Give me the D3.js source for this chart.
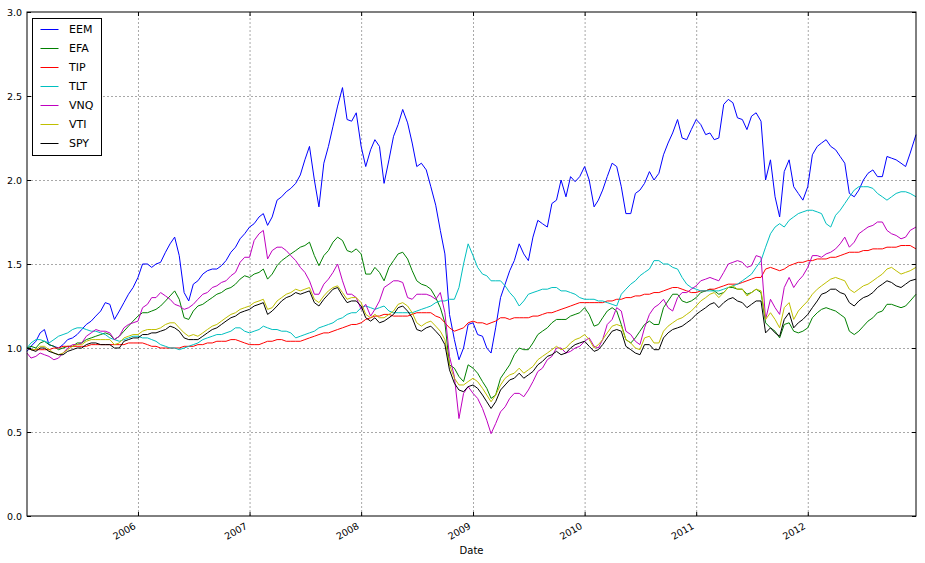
<!DOCTYPE html>
<html>
<head>
<meta charset="utf-8">
<script src="https://cdn.jsdelivr.net/npm/d3@7"></script>
<style>
  body { margin: 0; background: #fff; }
  text { font-family: "DejaVu Sans", sans-serif; }
</style>
</head>
<body>
<div id="chart-area"></div>
<script>
var dates = [
  "2005-01-03","2005-01-16","2005-02-01","2005-02-15","2005-03-01","2005-03-16","2005-04-01","2005-04-16","2005-05-01","2005-05-16","2005-06-01","2005-06-16",
  "2005-07-01","2005-07-16","2005-08-01","2005-08-16","2005-09-01","2005-09-16","2005-10-01","2005-10-16","2005-11-01","2005-11-16","2005-12-01","2005-12-16",
  "2006-01-01","2006-01-16","2006-02-01","2006-02-15","2006-03-01","2006-03-16","2006-04-01","2006-04-16","2006-05-01","2006-05-16","2006-06-01","2006-06-16",
  "2006-07-01","2006-07-16","2006-08-01","2006-08-16","2006-09-01","2006-09-16","2006-10-01","2006-10-16","2006-11-01","2006-11-16","2006-12-01","2006-12-16",
  "2007-01-01","2007-01-16","2007-02-01","2007-02-15","2007-03-01","2007-03-16","2007-04-01","2007-04-16","2007-05-01","2007-05-16","2007-06-01","2007-06-16",
  "2007-07-01","2007-07-16","2007-08-01","2007-08-16","2007-09-01","2007-09-16","2007-10-01","2007-10-16","2007-11-01","2007-11-16","2007-12-01","2007-12-16",
  "2008-01-01","2008-01-16","2008-02-01","2008-02-15","2008-03-01","2008-03-16","2008-04-01","2008-04-16","2008-05-01","2008-05-16","2008-06-01","2008-06-16",
  "2008-07-01","2008-07-16","2008-08-01","2008-08-16","2008-09-01","2008-09-16","2008-10-01","2008-10-16","2008-11-01","2008-11-16","2008-12-01","2008-12-16",
  "2009-01-01","2009-01-16","2009-02-01","2009-02-15","2009-03-01","2009-03-16","2009-04-01","2009-04-16","2009-05-01","2009-05-16","2009-06-01","2009-06-16",
  "2009-07-01","2009-07-16","2009-08-01","2009-08-16","2009-09-01","2009-09-16","2009-10-01","2009-10-16","2009-11-01","2009-11-16","2009-12-01","2009-12-16",
  "2010-01-01","2010-01-16","2010-02-01","2010-02-15","2010-03-01","2010-03-16","2010-04-01","2010-04-16","2010-05-01","2010-05-16","2010-06-01","2010-06-16",
  "2010-07-01","2010-07-16","2010-08-01","2010-08-16","2010-09-01","2010-09-16","2010-10-01","2010-10-16","2010-11-01","2010-11-16","2010-12-01","2010-12-16",
  "2011-01-01","2011-01-16","2011-02-01","2011-02-15","2011-03-01","2011-03-16","2011-04-01","2011-04-16","2011-05-01","2011-05-16","2011-06-01","2011-06-16",
  "2011-07-01","2011-07-16","2011-08-01","2011-08-16","2011-09-01","2011-09-16","2011-10-01","2011-10-16","2011-11-01","2011-11-16","2011-12-01","2011-12-16",
  "2012-01-01","2012-01-16","2012-02-01","2012-02-15","2012-03-01","2012-03-16","2012-04-01","2012-04-16","2012-05-01","2012-05-16","2012-06-01","2012-06-16",
  "2012-07-01","2012-07-16","2012-08-01","2012-08-16","2012-09-01","2012-09-16","2012-10-01","2012-10-16","2012-11-01","2012-11-16","2012-12-01","2012-12-20"
];

var EEM = [
  0.98,1.01, 1.04,1.09, 1.11,1.02, 1.01,1.00, 1.02,1.05, 1.06,1.08, 1.11,1.14, 1.16,1.19, 1.22,1.27, 1.26,1.17, 1.22,1.27, 1.32,1.36,
  1.42,1.50, 1.50,1.48, 1.50,1.51, 1.57,1.62, 1.66,1.55, 1.33,1.28, 1.38,1.40, 1.44,1.46, 1.47,1.47, 1.49,1.52, 1.57,1.60, 1.65,1.68,
  1.72,1.74, 1.78,1.80, 1.73,1.78, 1.88,1.90, 1.93,1.95, 1.98,2.03, 2.12,2.20, 2.00,1.84, 2.10,2.20, 2.32,2.44, 2.55,2.36, 2.35,2.40,
  2.20,2.08, 2.18,2.24, 2.20,1.98, 2.12,2.26, 2.33,2.42, 2.34,2.22, 2.08,2.10, 2.06,1.96, 1.85,1.70, 1.56,1.20, 1.05,0.93, 1.00,1.14,
  1.15,1.08, 1.07,1.00, 0.97,1.12, 1.30,1.38, 1.46,1.52, 1.62,1.56, 1.52,1.66, 1.76,1.74, 1.72,1.86, 1.88,2.00, 1.90,2.02, 1.99,2.02,
  2.08,2.00, 1.84,1.88, 1.94,2.02, 2.10,2.08, 1.96,1.80, 1.80,1.92, 1.94,1.98, 2.05,2.00, 2.04,2.15, 2.22,2.28, 2.36,2.25, 2.24,2.30,
  2.36,2.33, 2.27,2.28, 2.24,2.25, 2.45,2.48, 2.46,2.37, 2.36,2.30, 2.38,2.40, 2.35,2.00, 2.12,1.90, 1.78,2.05, 2.12,1.96, 1.92,1.88,
  1.96,2.15, 2.20,2.22, 2.24,2.20, 2.18,2.14, 2.10,1.92, 1.90,1.94, 2.00,2.04, 2.06,2.02, 2.02,2.14, 2.13,2.12, 2.10,2.08, 2.16,2.27
];
var EFA = [
  1.00,1.01, 1.00,1.03, 1.04,1.02, 1.01,0.99, 1.00,1.01, 1.01,1.03, 1.03,1.05, 1.06,1.07, 1.08,1.09, 1.08,1.05, 1.07,1.10, 1.13,1.16,
  1.19,1.21, 1.21,1.22, 1.23,1.25, 1.28,1.31, 1.34,1.29, 1.18,1.17, 1.22,1.25, 1.26,1.28, 1.30,1.32, 1.33,1.35, 1.36,1.38, 1.41,1.43,
  1.42,1.44, 1.45,1.47, 1.41,1.44, 1.49,1.52, 1.54,1.56, 1.58,1.60, 1.61,1.63, 1.55,1.49, 1.55,1.58, 1.63,1.66, 1.64,1.58, 1.57,1.59,
  1.56,1.44, 1.44,1.48, 1.45,1.40, 1.48,1.52, 1.56,1.57, 1.53,1.46, 1.40,1.38, 1.37,1.35, 1.30,1.24, 1.15,0.90, 0.88,0.83, 0.80,0.90,
  0.88,0.85, 0.80,0.76, 0.70,0.72, 0.82,0.86, 0.90,0.96, 1.00,0.99, 0.99,1.03, 1.08,1.10, 1.12,1.15, 1.17,1.17, 1.17,1.19, 1.20,1.21,
  1.24,1.20, 1.13,1.14, 1.18,1.22, 1.24,1.22, 1.14,1.05, 1.03,1.06, 1.10,1.14, 1.16,1.14, 1.14,1.24, 1.28,1.32, 1.32,1.28, 1.27,1.28,
  1.30,1.33, 1.34,1.35, 1.34,1.32, 1.33,1.36, 1.36,1.35, 1.35,1.32, 1.33,1.35, 1.33,1.15, 1.12,1.10, 1.06,1.14, 1.15,1.10, 1.09,1.10,
  1.12,1.18, 1.21,1.23, 1.24,1.23, 1.22,1.20, 1.18,1.10, 1.08,1.10, 1.13,1.16, 1.18,1.21, 1.22,1.26, 1.26,1.25, 1.24,1.25, 1.28,1.32
];
var TIP = [
  1.00,0.99, 0.99,0.99, 0.99,0.99, 1.00,1.00, 1.01,1.01, 1.01,1.01, 1.01,1.01, 1.02,1.02, 1.02,1.02, 1.02,1.02, 1.02,1.02, 1.03,1.03,
  1.03,1.03, 1.02,1.01, 1.01,1.00, 1.00,1.00, 1.00,1.00, 1.01,1.01, 1.01,1.02, 1.02,1.03, 1.03,1.04, 1.04,1.04, 1.05,1.05, 1.04,1.03,
  1.02,1.02, 1.02,1.03, 1.04,1.04, 1.05,1.05, 1.04,1.04, 1.04,1.04, 1.05,1.06, 1.07,1.08, 1.09,1.09, 1.10,1.11, 1.12,1.13, 1.14,1.14,
  1.15,1.17, 1.18,1.19, 1.19,1.20, 1.20,1.19, 1.19,1.19, 1.19,1.20, 1.21,1.21, 1.21,1.21, 1.19,1.18, 1.15,1.12, 1.10,1.11, 1.12,1.15,
  1.16,1.15, 1.15,1.14, 1.15,1.16, 1.18,1.18, 1.17,1.18, 1.18,1.18, 1.18,1.19, 1.19,1.20, 1.21,1.21, 1.22,1.23, 1.24,1.25, 1.26,1.27,
  1.27,1.27, 1.27,1.27, 1.27,1.28, 1.28,1.29, 1.29,1.30, 1.30,1.31, 1.31,1.32, 1.32,1.33, 1.33,1.34, 1.35,1.36, 1.36,1.35, 1.34,1.33,
  1.33,1.34, 1.34,1.35, 1.35,1.36, 1.37,1.38, 1.38,1.38, 1.39,1.40, 1.41,1.42, 1.42,1.47, 1.48,1.47, 1.46,1.47, 1.49,1.50, 1.51,1.51,
  1.52,1.52, 1.53,1.53, 1.53,1.54, 1.54,1.55, 1.56,1.57, 1.57,1.57, 1.58,1.58, 1.59,1.59, 1.59,1.60, 1.60,1.60, 1.61,1.61, 1.61,1.59
];
var TLT = [
  1.00,1.03, 1.05,1.05, 1.04,1.03, 1.05,1.07, 1.08,1.09, 1.11,1.12, 1.12,1.11, 1.10,1.10, 1.09,1.08, 1.06,1.05, 1.04,1.05, 1.06,1.07,
  1.07,1.06, 1.06,1.05, 1.04,1.02, 1.01,1.00, 1.00,0.99, 1.00,1.01, 1.02,1.03, 1.05,1.06, 1.07,1.08, 1.08,1.09, 1.10,1.12, 1.12,1.10,
  1.09,1.10, 1.11,1.13, 1.12,1.11, 1.11,1.10, 1.10,1.09, 1.06,1.07, 1.08,1.09, 1.10,1.12, 1.13,1.14, 1.15,1.17, 1.18,1.20, 1.21,1.21,
  1.24,1.25, 1.24,1.23, 1.24,1.25, 1.22,1.21, 1.21,1.21, 1.21,1.21, 1.22,1.23, 1.24,1.25, 1.27,1.28, 1.28,1.29, 1.29,1.36, 1.50,1.62,
  1.55,1.48, 1.44,1.43, 1.40,1.40, 1.40,1.37, 1.33,1.30, 1.25,1.28, 1.32,1.33, 1.34,1.35, 1.35,1.36, 1.36,1.34, 1.34,1.33, 1.32,1.30,
  1.29,1.29, 1.29,1.28, 1.28,1.27, 1.26,1.25, 1.32,1.35, 1.38,1.40, 1.43,1.45, 1.47,1.52, 1.52,1.50, 1.50,1.48, 1.47,1.42, 1.38,1.36,
  1.35,1.34, 1.34,1.34, 1.34,1.34, 1.35,1.36, 1.37,1.38, 1.40,1.42, 1.44,1.48, 1.52,1.60, 1.68,1.72, 1.74,1.72, 1.76,1.78, 1.80,1.81,
  1.82,1.82, 1.81,1.80, 1.74,1.72, 1.79,1.82, 1.86,1.90, 1.94,1.96, 1.96,1.96, 1.95,1.92, 1.90,1.88, 1.90,1.92, 1.93,1.93, 1.92,1.90
];
var VNQ = [
  0.97,0.94, 0.95,0.97, 0.96,0.95, 0.93,0.94, 0.97,1.00, 1.02,1.02, 1.03,1.07, 1.09,1.11, 1.10,1.10, 1.09,1.05, 1.07,1.12, 1.14,1.15,
  1.16,1.24, 1.26,1.30, 1.30,1.33, 1.31,1.29, 1.26,1.25, 1.23,1.24, 1.26,1.29, 1.32,1.33, 1.36,1.37, 1.39,1.40, 1.43,1.45, 1.51,1.54,
  1.54,1.64, 1.68,1.70, 1.53,1.58, 1.60,1.60, 1.58,1.55, 1.52,1.48, 1.45,1.40, 1.32,1.32, 1.38,1.41, 1.45,1.50, 1.40,1.32, 1.32,1.30,
  1.23,1.26, 1.19,1.23, 1.28,1.36, 1.38,1.40, 1.40,1.39, 1.30,1.29, 1.32,1.32, 1.32,1.31, 1.29,1.33, 1.21,0.95, 0.83,0.58, 0.73,0.77,
  0.73,0.70, 0.64,0.57, 0.49,0.55, 0.62,0.65, 0.70,0.73, 0.73,0.71, 0.75,0.80, 0.86,0.88, 0.93,0.95, 1.00,1.00, 0.97,0.98, 1.00,1.01,
  1.04,1.06, 1.01,1.00, 1.05,1.14, 1.17,1.24, 1.22,1.10, 1.08,1.04, 1.02,1.12, 1.20,1.24, 1.26,1.29, 1.24,1.22, 1.30,1.33, 1.33,1.35,
  1.37,1.40, 1.41,1.42, 1.41,1.40, 1.45,1.50, 1.51,1.52, 1.51,1.48, 1.49,1.55, 1.54,1.17, 1.29,1.24, 1.20,1.36, 1.42,1.36, 1.40,1.43,
  1.48,1.55, 1.55,1.54, 1.56,1.57, 1.59,1.62, 1.66,1.60, 1.63,1.68, 1.70,1.72, 1.73,1.75, 1.75,1.70, 1.68,1.67, 1.65,1.66, 1.70,1.72
];
var VTI = [
  1.00,0.99, 0.99,1.01, 1.01,0.99, 0.97,0.96, 0.97,0.99, 1.01,1.02, 1.02,1.04, 1.05,1.05, 1.05,1.05, 1.05,1.02, 1.03,1.06, 1.07,1.08,
  1.08,1.10, 1.11,1.11, 1.11,1.12, 1.14,1.15, 1.15,1.12, 1.09,1.07, 1.08,1.07, 1.09,1.11, 1.13,1.14, 1.16,1.18, 1.20,1.21, 1.23,1.24,
  1.25,1.27, 1.28,1.29, 1.23,1.24, 1.28,1.30, 1.32,1.33, 1.35,1.34, 1.35,1.36, 1.29,1.27, 1.31,1.34, 1.36,1.37, 1.33,1.29, 1.30,1.30,
  1.27,1.20, 1.18,1.20, 1.18,1.18, 1.20,1.22, 1.26,1.27, 1.25,1.21, 1.15,1.13, 1.15,1.16, 1.13,1.10, 1.05,0.90, 0.82,0.78, 0.78,0.80,
  0.82,0.80, 0.76,0.72, 0.68,0.72, 0.78,0.82, 0.84,0.85, 0.88,0.85, 0.87,0.89, 0.93,0.95, 0.97,0.99, 1.01,0.99, 1.00,1.03, 1.05,1.06,
  1.08,1.05, 1.00,1.02, 1.05,1.09, 1.13,1.14, 1.13,1.05, 1.03,1.00, 0.99,1.06, 1.07,1.03, 1.03,1.10, 1.13,1.15, 1.17,1.18, 1.20,1.22,
  1.25,1.28, 1.30,1.32, 1.33,1.30, 1.33,1.36, 1.37,1.35, 1.35,1.31, 1.33,1.35, 1.34,1.17, 1.21,1.17, 1.12,1.24, 1.27,1.17, 1.22,1.25,
  1.28,1.32, 1.35,1.37, 1.39,1.41, 1.42,1.41, 1.40,1.35, 1.33,1.35, 1.37,1.38, 1.40,1.42, 1.44,1.47, 1.48,1.46, 1.44,1.45, 1.46,1.48
];
var SPY = [
  1.00,0.99, 0.98,1.00, 1.00,0.98, 0.97,0.96, 0.96,0.98, 0.99,1.00, 1.00,1.02, 1.03,1.03, 1.02,1.02, 1.02,1.00, 1.00,1.04, 1.05,1.06,
  1.06,1.08, 1.08,1.09, 1.09,1.10, 1.11,1.13, 1.12,1.10, 1.06,1.05, 1.05,1.05, 1.07,1.09, 1.11,1.12, 1.14,1.16, 1.18,1.19, 1.21,1.22,
  1.23,1.25, 1.26,1.27, 1.20,1.22, 1.25,1.28, 1.30,1.31, 1.33,1.32, 1.33,1.34, 1.27,1.25, 1.29,1.32, 1.35,1.36, 1.31,1.27, 1.28,1.28,
  1.25,1.18, 1.16,1.18, 1.15,1.16, 1.18,1.20, 1.24,1.25, 1.22,1.18, 1.11,1.10, 1.12,1.13, 1.10,1.07, 1.02,0.87, 0.79,0.75, 0.74,0.77,
  0.78,0.76, 0.72,0.68, 0.64,0.68, 0.75,0.78, 0.81,0.82, 0.85,0.82, 0.84,0.86, 0.90,0.92, 0.95,0.96, 0.98,0.96, 0.97,1.00, 1.02,1.03,
  1.04,1.01, 0.98,0.99, 1.02,1.06, 1.10,1.11, 1.10,1.01, 0.99,0.97, 0.96,1.02, 1.02,0.99, 0.99,1.06, 1.09,1.11, 1.12,1.13, 1.15,1.17,
  1.20,1.22, 1.24,1.26, 1.27,1.24, 1.27,1.29, 1.30,1.28, 1.27,1.24, 1.26,1.28, 1.28,1.09, 1.12,1.09, 1.07,1.17, 1.21,1.12, 1.15,1.17,
  1.20,1.24, 1.28,1.32, 1.33,1.35, 1.35,1.33, 1.32,1.27, 1.25,1.28, 1.30,1.31, 1.33,1.36, 1.38,1.40, 1.39,1.37, 1.36,1.38, 1.40,1.41
];

var seriesNames = ["EEM", "EFA", "TIP", "TLT", "VNQ", "VTI", "SPY"];
var seriesValues = [EEM, EFA, TIP, TLT, VNQ, VTI, SPY];
var colors = ["#0000ff", "#008000", "#ff0000", "#00bfbf", "#bf00bf", "#bfbf00", "#000000"];
var yearTicks = ["2006", "2007", "2008", "2009", "2010", "2011", "2012"];
var yTicks = [0.0, 0.5, 1.0, 1.5, 2.0, 2.5, 3.0];

var W = 925, H = 563;
var plotLeft = 27, plotTop = 12, plotRight = 916, plotBottom = 516;

var svg = d3.select("#chart-area")
    .append("svg")
        .attr("width", W)
        .attr("height", H);

var parse = d3.timeParse("%Y-%m-%d");
var dateObjs = dates.map(function(d) { return parse(d); });
var yearDates = yearTicks.map(function(d) { return d3.timeParse("%Y")(d); });

var x = d3.scaleTime()
    .domain([dateObjs[0], dateObjs[dateObjs.length - 1]])
    .range([plotLeft, plotRight]);

var y = d3.scaleLinear()
    .domain([0, 3])
    .range([plotBottom, plotTop]);

// grid
svg.append("g")
    .attr("class", "grid x")
    .attr("transform", "translate(0," + plotBottom + ")")
    .call(d3.axisBottom(x).tickValues(yearDates).tickSize(-(plotBottom - plotTop)).tickFormat(""))
    .call(function(g) { g.select(".domain").remove(); });

svg.append("g")
    .attr("class", "grid y")
    .attr("transform", "translate(" + plotLeft + ",0)")
    .call(d3.axisLeft(y).tickValues(yTicks.slice(1, -1)).tickSize(-(plotRight - plotLeft)).tickFormat(""))
    .call(function(g) { g.select(".domain").remove(); });

svg.selectAll(".grid line")
    .attr("stroke", "#a8a8a8")
    .attr("stroke-dasharray", "2,2")
    .attr("stroke-width", 1);

// lines
var line = d3.line()
    .x(function(d, i) { return x(dateObjs[i]); })
    .y(function(d) { return y(d); });

svg.append("g")
    .selectAll("path")
    .data(seriesValues)
    .enter()
    .append("path")
        .attr("fill", "none")
        .attr("stroke", function(d, i) { return colors[i]; })
        .attr("stroke-width", 1)
        .attr("stroke-linejoin", "round")
        .attr("d", line);

// axes with inward ticks
var bottomAxis = svg.append("g")
    .attr("class", "bottom axis")
    .attr("transform", "translate(0," + plotBottom + ")")
    .call(d3.axisBottom(x).tickValues(yearDates).tickSize(-4).tickFormat(d3.timeFormat("%Y")));

bottomAxis.selectAll("text")
    .attr("y", 0)
    .attr("dy", 0)
    .attr("font-size", "9.5px")
    .attr("fill", "#000")
    .attr("text-anchor", "end")
    .attr("transform", "translate(-2,12) rotate(-30)");

svg.append("g")
    .attr("transform", "translate(0," + plotTop + ")")
    .call(d3.axisTop(x).tickValues(yearDates).tickSize(-4).tickFormat(""));

svg.append("g")
    .attr("class", "left axis")
    .attr("transform", "translate(" + plotLeft + ",0)")
    .call(d3.axisLeft(y).tickValues(yTicks).tickSize(-4).tickPadding(5).tickFormat(d3.format(".1f")))
    .selectAll("text")
        .attr("font-size", "9.5px")
        .attr("fill", "#000");

svg.append("g")
    .attr("transform", "translate(" + plotRight + ",0)")
    .call(d3.axisRight(y).tickValues(yTicks).tickSize(-4).tickFormat(""));

svg.selectAll(".domain").remove();
svg.selectAll(".tick line").filter(function() { return !this.closest(".grid"); })
    .attr("stroke", "#000");

svg.append("rect")
    .attr("x", plotLeft)
    .attr("y", plotTop)
    .attr("width", plotRight - plotLeft)
    .attr("height", plotBottom - plotTop)
    .attr("fill", "none")
    .attr("stroke", "#000")
    .attr("stroke-width", 1);

svg.append("text")
    .attr("x", (plotLeft + plotRight) / 2)
    .attr("y", 554)
    .attr("font-size", "10px")
    .attr("text-anchor", "middle")
    .text("Date");

// legend
var legend = svg.append("g").attr("transform", "translate(32.5,18.5)");
legend.append("rect")
    .attr("width", 69)
    .attr("height", 137)
    .attr("fill", "#fff")
    .attr("stroke", "#000")
    .attr("stroke-width", 1);

var items = legend.selectAll(".item")
    .data(seriesNames)
    .enter()
    .append("g")
        .attr("transform", function(d, i) { return "translate(0," + (11 + i * 19) + ")"; });

items.append("line")
    .attr("x1", 8)
    .attr("x2", 26)
    .attr("stroke", function(d, i) { return colors[i]; })
    .attr("stroke-width", 1);

items.append("text")
    .attr("x", 36.5)
    .attr("dy", "0.36em")
    .attr("font-size", "11px")
    .text(function(d) { return d; });
</script>
</body>
</html>
